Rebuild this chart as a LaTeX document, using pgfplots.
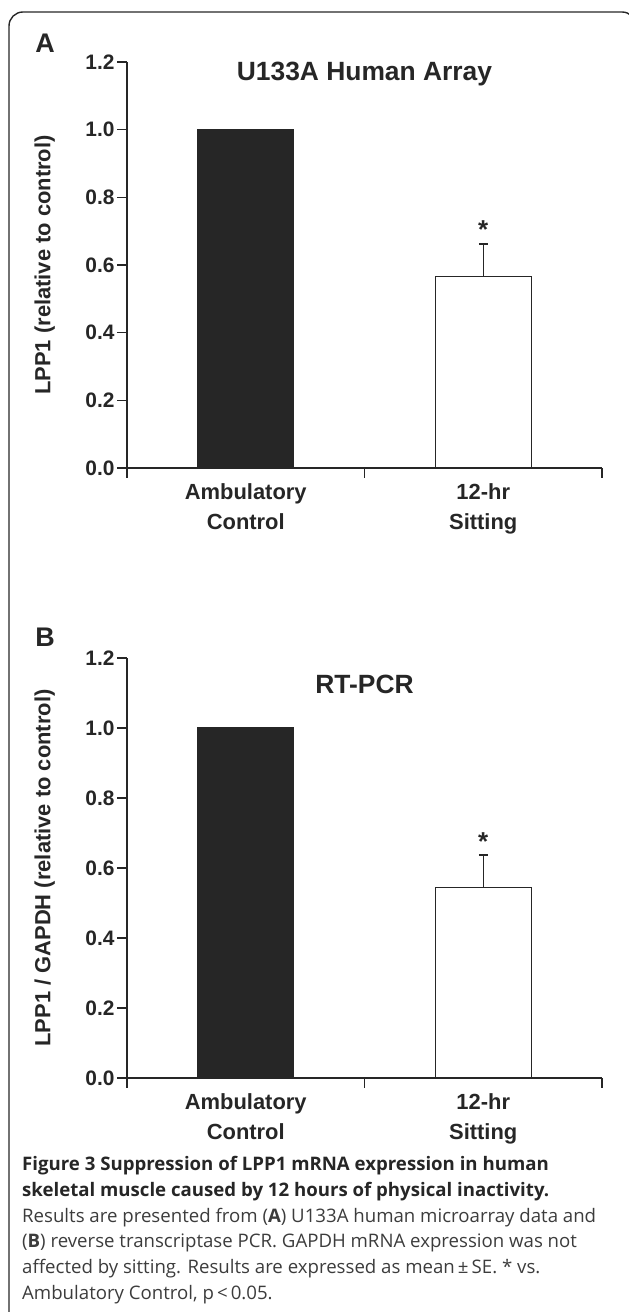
\documentclass[border=0pt]{standalone}
\usepackage{fontspec}
\usepackage{pgfplots}
\pgfplotsset{compat=1.18}
\setmainfont{Open Sans}
\newfontfamily\arial{Liberation Sans}
\definecolor{ink}{HTML}{262626}
\definecolor{barfill}{HTML}{262626}
\definecolor{captxt}{HTML}{3C3C3C}

\newcommand\chartfont[1]{\arial\bfseries\fontsize{#1}{#1}\selectfont}

\pgfplotsset{
  lppbars/.style={
    scale only axis,
    width=475bp,
    xmin=-0.5, xmax=1.5,
    ymin=0, ymax=1.2,
    axis x line*=bottom,
    axis y line*=left,
    axis line style={ink, line width=1.1bp},
    every tick/.style={ink, line width=1.1bp},
    tick align=outside,
    major tick length=10bp,
    ytick={0,0.2,0.4,0.6,0.8,1.0,1.2},
    yticklabel style={font=\chartfont{21}, text=ink, xshift=1bp,
      /pgf/number format/.cd, fixed, fixed zerofill, precision=1, assume math mode=true},
    xtick={-0.5,0.5,1.5},
    xticklabels={,,},
    extra x ticks={0,1},
    extra x tick labels={{Ambulatory\\Control},{12-hr\\Sitting}},
    extra x tick style={tick style={draw=none},
      xticklabel style={font=\arial\bfseries\fontsize{22}{30}\selectfont, text=ink, align=center, yshift=-2bp}},
    ylabel style={font=\chartfont{22}, text=ink, at={(axis description cs:-0.173,0.5)}, anchor=center},
    clip=false,
  },
  ctrlbar/.style={ybar, bar width=96bp, bar shift=0pt, fill=barfill, draw=barfill, line width=1bp},
  sitbar/.style={ybar, bar width=96bp, bar shift=0pt, fill=white, draw=ink, line width=1.1bp,
    error bars/.cd, y dir=plus, y explicit,
    error bar style={ink, line width=1.3bp},
    error mark options={ink, rotate=90, mark size=4.5bp, line width=1.3bp}},
}

\begin{document}
\begin{tikzpicture}[x=1bp,y=1bp]
\useasboundingbox (0,0) rectangle (629,1312);
\clip (0,0) rectangle (629,1312);
\draw[ink, line width=1.4bp, rounded corners=14bp] (9,-40) -- (9,1300) -- (636,1300) -- (636,-40);

% panel A
\node[font=\chartfont{27}, text=ink, anchor=base] at (45,1259) {A};
\begin{axis}[lppbars, at={(127bp,844bp)}, anchor=south west, height=406bp,
  ylabel={LPP1 (relative to control)}]
  \addplot[ctrlbar] coordinates {(0,1.0)};
  \addplot[sitbar] coordinates {(1,0.567) +- (0,0.095)};
  \node[font=\chartfont{26}, text=ink, anchor=base] at (axis cs:1,0.677) {*};
  \node[font=\chartfont{26.5}, text=ink, anchor=base] at (axis cs:0.5,1.145) {U133A Human Array};
\end{axis}

% panel B
\node[font=\chartfont{27}, text=ink, anchor=base] at (45,665) {B};
\begin{axis}[lppbars, at={(127bp,234bp)}, anchor=south west, height=420bp,
  ylabel={LPP1 / GAPDH (relative to control)}]
  \addplot[ctrlbar] coordinates {(0,1.0)};
  \addplot[sitbar] coordinates {(1,0.545) +- (0,0.092)};
  \node[font=\chartfont{26}, text=ink, anchor=base] at (axis cs:1,0.649) {*};
  \node[font=\chartfont{26.5}, text=ink, anchor=base] at (axis cs:0.5,1.099) {RT-PCR};
\end{axis}

% caption
\begin{scope}[every node/.style={anchor=base west, inner sep=0pt, text=captxt}]
  \node[font=\bfseries\fontsize{18.7}{20}\selectfont, text=ink] at (22,141) {Figure 3 Suppression of LPP1 mRNA expression in human};
  \node[font=\bfseries\fontsize{18.7}{20}\selectfont, text=ink] at (22,115) {skeletal muscle caused by 12 hours of physical inactivity.};
  \node[font=\fontsize{18.7}{20}\selectfont] at (22,89) {Results are presented from (\textbf{A}) U133A human microarray data and};
  \node[font=\fontsize{18.7}{20}\selectfont] at (22,64) {(\textbf{B}) reverse transcriptase PCR. GAPDH mRNA expression was not};
  \node[font=\fontsize{18.7}{20}\selectfont] at (22,38) {affected by sitting. Results are expressed as mean\,±\,SE. * vs.};
  \node[font=\fontsize{18.7}{20}\selectfont] at (22,12) {Ambulatory Control, p\,<\,0.05.};
\end{scope}
\end{tikzpicture}
\end{document}
